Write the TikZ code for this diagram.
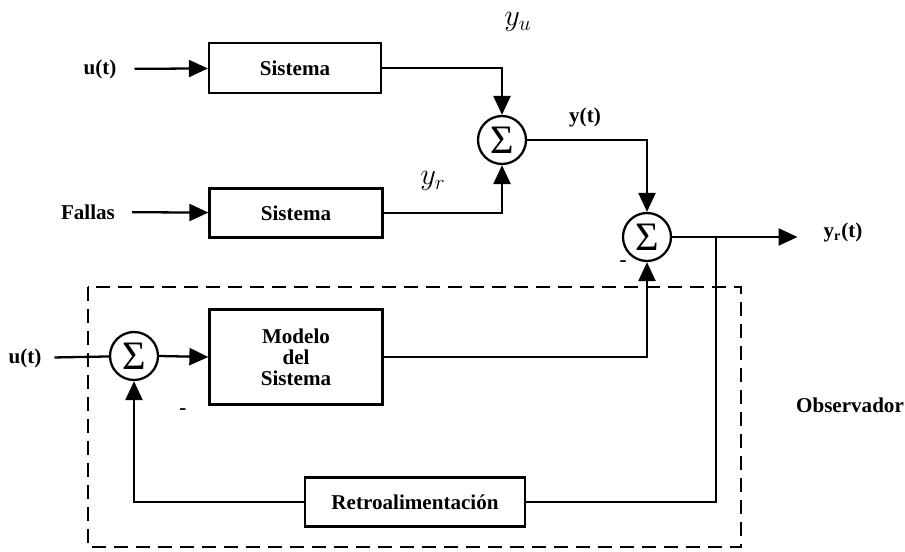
\documentclass[tikz,border=0pt]{standalone}
\usepackage{fontspec}
\setmainfont{Liberation Serif}
\usetikzlibrary{arrows.meta, positioning}

\begin{document}
\begin{tikzpicture}[x=0.02cm, y=-0.02cm,
    blk/.style={draw, line width=1.3pt, font=\fontsize{12}{12}\selectfont\bfseries, inner sep=2pt, align=center},
    sumc/.style={draw, circle, line width=1.3pt, minimum size=0.96cm, inner sep=0pt, font=\fontsize{23}{23}\selectfont},
    lbl/.style={font=\fontsize{12}{12}\selectfont\bfseries, inner sep=1pt},
    arr/.style={-{Triangle[length=3.8mm, width=3.4mm]}, line width=1.3pt},
    ln/.style={line width=1.3pt}]
  \useasboundingbox (0,0) rectangle (905,551);
  % upper path: plant and faults
  \node[blk, minimum width=3.44cm, minimum height=1cm] (sis1) at (295,68) {Sistema};
  \node[blk, minimum width=3.46cm, minimum height=0.98cm] (sis2) at (296,213) {Sistema};
  \node[lbl] (ut1) at (100,69) {u(t)};
  \node[lbl] (fal) at (88,212) {Fallas};
  \node[sumc] (sum1) at (502,140) {Σ};
  \node[sumc] (sum2) at (647,237) {Σ};
  \node[font=\LARGE] (yu) at (518,22) {$y_u$};
  \node[font=\LARGE] (yr) at (433,181) {$y_r$};
  \node[lbl] (yt) at (585,117) {y(t)};
  \node[lbl] (yrt) at (843,232) {y\textsubscript{r}(t)};
  \draw[arr, shorten <=3.2mm] (ut1) -- (sis1);
  \draw[arr, shorten <=3mm] (fal) -- (sis2);
  \draw[arr] (sis1.east) -| (sum1.north);
  \draw[arr] (sis2.east) -| (sum1.south);
  \draw[arr] (sum1.east) -| (sum2.north);
  \draw[arr, shorten >=4.8mm] (sum2.east) -- (yrt.west |- sum2.east);
  % observer
  \node[blk, minimum width=3.46cm, minimum height=1.9cm] (mod) at (296,357) {Modelo\\del\\Sistema};
  \node[blk, minimum width=4.4cm, minimum height=0.98cm] (ret) at (415,502) {Retroalimentación};
  \node[sumc] (sum3) at (134,356) {Σ};
  \node[lbl] (ut2) at (25,358) {u(t)};
  \node[lbl] (obs) at (850,405) {Observador};
  \node[lbl] (m1) at (623,264) {-};
  \node[lbl] (m2) at (183,412) {-};
  \coordinate (br) at (716,237);
  \draw[ln, shorten <=2.2mm] (ut2) -- (sum3);
  \draw[arr] (sum3.east) -- (mod.west);
  \draw[arr] (mod.east) -| (sum2.south);
  \draw[ln] (br) |- (ret.east);
  \draw[arr] (ret.west) -| (sum3.south);
  \draw[line width=1.1pt, dash pattern=on 2.8mm off 1.6mm] (88,287) rectangle (741,547);
\end{tikzpicture}
\end{document}
